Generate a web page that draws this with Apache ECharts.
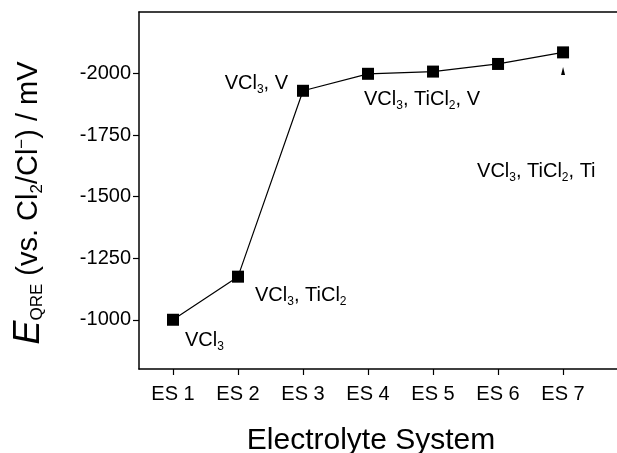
<!DOCTYPE html>
<html>
<head>
<meta charset="utf-8">
<script src="https://cdn.jsdelivr.net/npm/echarts@6/dist/echarts.min.js"></script>
<style>
  html, body { margin: 0; padding: 0; background: #fff; }
  #main { width: 617px; height: 453px; }
</style>
</head>
<body>
<div id="main"></div>
<script>
	// data
	var categories = ['ES 1', 'ES 2', 'ES 3', 'ES 4', 'ES 5', 'ES 6', 'ES 7'];
	var potential = [-1000, -1175, -1930, -1999, -2008, -2039, -2086];
	var yTicks = [-2000, -1750, -1500, -1250, -1000];
	var phases = ['{m|VCl}{s|3}', '{m|VCl}{s|3}{m|, TiCl}{s|2}', '{m|VCl}{s|3}{m|, V}', '{m|VCl}{s|3}{m|, TiCl}{s|2}{m|, V}', '', '', '{m|VCl}{s|3}{m|, TiCl}{s|2}{m|, Ti}'];

	var font = 'Liberation Sans';
	var rich = {
		m: { fontFamily: font, fontSize: 20, color: '#000' },
		s: { fontFamily: font, fontSize: 12, color: '#000', padding: [12, 0, 0, 0] }
	};
	// where each phase label sits relative to its point
	var labelPos = [
		{ position: 'right', offset: [1, 21] },
		{ position: 'right', offset: [6, 19] },
		{ position: 'left', offset: [-4, -7] },
		{ position: 'right', offset: [-15, 26] },
		null, null,
		{ position: 'right', offset: [-97, 119] }
	];

	var seriesData = [];
	for (var i = 0; i < potential.length; i++) {
		var item = { value: [i + 1, potential[i]] };
		if (labelPos[i]) {
			item.label = {
				show: true,
				position: labelPos[i].position,
				offset: labelPos[i].offset,
				formatter: phases[i],
				rich: rich
			};
		}
		seriesData.push(item);
	}
	var xTickVals = categories.map(function (c, i) { return i + 1; });

	var chart = echarts.init(document.getElementById('main'));
	chart.setOption({
		backgroundColor: '#fff',
		animation: false,
		grid: { left: 139, top: 12, right: 0, bottom: 84, outerBoundsMode: 'none' },
		xAxis: [{
			type: 'value',
			min: 0.477,
			max: 7.83,
			name: 'Electrolyte System',
			nameLocation: 'middle',
			nameGap: 57,
			nameTextStyle: { fontFamily: font, fontSize: 30, color: '#000', padding: [0, 14, 0, 0] },
			axisLine: { lineStyle: { color: '#000', width: 1.5 } },
			axisTick: { show: true, length: 6, lineStyle: { color: '#000', width: 1.2 }, customValues: xTickVals },
			axisLabel: {
				customValues: xTickVals,
				formatter: function (v) { return categories[Math.round(v) - 1] || ''; },
				fontFamily: font, fontSize: 20, color: '#000', margin: 15
			},
			splitLine: { show: false }
		}, {
			type: 'value',
			position: 'top',
			min: 0.477,
			max: 7.83,
			axisLine: { show: true, lineStyle: { color: '#000', width: 1.5 } },
			axisTick: { show: false },
			axisLabel: { show: false },
			splitLine: { show: false }
		}],
		yAxis: {
			type: 'value',
			inverse: true,
			min: -2250,
			max: -800,
			axisLine: { show: true, lineStyle: { color: '#000', width: 1.5 } },
			axisTick: { show: true, length: 6, lineStyle: { color: '#000', width: 1.2 }, customValues: yTicks },
			axisLabel: {
				customValues: yTicks,
				formatter: function (v) { return String(v); },
				fontFamily: font, fontSize: 20, color: '#000', margin: 8
			},
			splitLine: { show: false }
		},
		graphic: [{
			type: 'text',
			x: 29,
			y: 203,
			rotation: Math.PI / 2,
			style: {
				text: '{e|E}{s|QRE}{m| (vs. Cl}{s|2}{m|/Cl}{p|−}{m|) / mV}',
				align: 'center',
				verticalAlign: 'middle',
				rich: {
					e: { fontFamily: font, fontSize: 36, fontStyle: 'italic', fill: '#000' },
					m: { fontFamily: font, fontSize: 29, fill: '#000' },
					s: { fontFamily: font, fontSize: 17, fill: '#000', padding: [16, 0, 0, 0] },
					p: { fontFamily: font, fontSize: 17, fill: '#000', padding: [0, 0, 14, 0] }
				}
			}
		}],
		series: [{
			type: 'line',
			data: seriesData,
			symbol: 'rect',
			symbolSize: 12,
			itemStyle: { color: '#000' },
			lineStyle: { color: '#000', width: 1.2 },
			label: { show: false },
			// small tick drawn just under the ES 7 point
			markPoint: {
				symbol: 'triangle',
				symbolSize: [4, 8],
				label: { show: false },
				itemStyle: { color: '#000' },
				data: [{ coord: [7, -2010] }]
			}
		}]
	});
</script>
</body>
</html>
